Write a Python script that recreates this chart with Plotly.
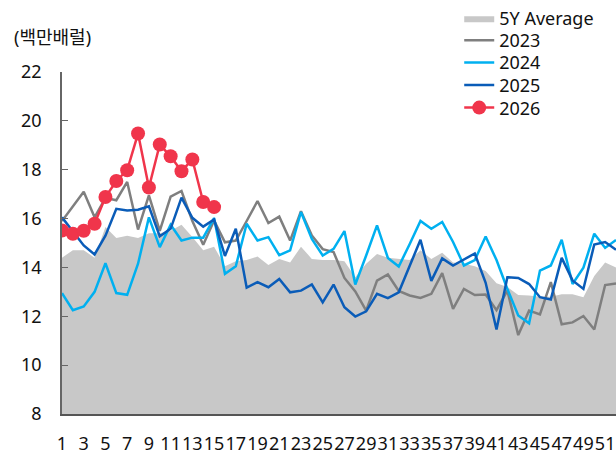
import plotly.graph_objects as go

weeks = list(range(1, 53))
weeks_2026 = list(range(1, 16))

avg_5y = [14.4, 14.7, 14.7, 14.4, 15.65, 15.2, 15.3, 15.2, 15.4, 15.4,
          15.5, 15.75, 15.25, 14.7, 14.85, 14.05, 14.25, 14.3, 14.45, 14.1,
          14.35, 14.2, 14.85, 14.35, 14.3, 14.3, 14.25, 13.6, 14.15, 14.55,
          14.4, 14.35, 14.3, 14.7, 14.35, 14.6, 14.2, 14.15, 14.05, 13.85,
          13.35, 13.2, 12.87, 12.85, 12.8, 12.8, 12.9, 12.9, 12.78, 13.65,
          14.2, 14.0]

y2023 = [15.9, 16.5, 17.1, 16.05, 16.85, 16.75, 17.5, 15.55, 16.95, 15.5,
         16.9, 17.13, 15.9, 14.93, 15.92, 15.03, 15.1, 15.9, 16.72, 15.82,
         16.08, 15.1, 16.3, 15.31, 14.75, 14.63, 13.57, 13.02, 12.23, 13.46,
         13.71, 13.04, 12.85, 12.75, 12.92, 13.77, 12.3, 13.12, 12.87, 12.89,
         12.25, 13.05, 11.23, 12.23, 12.08, 13.4, 11.67, 11.75, 12.01, 11.46,
         13.28, 13.34]

y2024 = [12.95, 12.25, 12.4, 13.0, 14.17, 12.95, 12.88, 14.15, 16.05, 14.83,
         15.75, 15.1, 15.22, 15.22, 16.02, 13.74, 14.05, 15.79, 15.1, 15.24,
         14.5, 14.7, 16.27, 15.17, 14.49, 14.76, 15.49, 13.3, 14.49, 15.72,
         14.39, 14.04, 14.95, 15.9, 15.58, 15.86, 15.04, 14.08, 14.3, 15.27,
         14.3, 13.12, 12.03, 11.71, 13.87, 14.08, 15.13, 13.32, 13.99, 15.38,
         14.8, 15.12]

y2025 = [16.05, 15.45, 14.9, 14.53, 15.3, 16.4, 16.33, 16.36, 16.5, 15.27,
         15.58, 16.86, 16.03, 15.67, 15.96, 14.47, 15.58, 13.17, 13.4, 13.19,
         13.53, 12.98, 13.05, 13.3, 12.57, 13.3, 12.37, 11.99, 12.2, 12.92,
         12.74, 12.98, 14.05, 15.13, 13.45, 14.37, 14.08, 14.31, 14.57, 13.37,
         11.46, 13.6, 13.57, 13.32, 12.78, 12.69, 14.39, 13.47, 13.12, 14.94,
         15.04, 14.72]

y2026 = [15.51, 15.38, 15.5, 15.79, 16.88, 17.54, 17.98, 19.48, 17.27, 19.03,
         18.55, 17.94, 18.42, 16.68, 16.47]

x_tick_vals = list(range(1, 52, 2))
x_tick_text = [str(v) for v in x_tick_vals]
y_tick_vals = [8, 10, 12, 14, 16, 18, 20, 22]
unit_label = "(백만배럴)"

FONT = "Noto Sans, Noto Sans CJK KR, sans-serif"
LEG_X = 0.717
LEG_Y = [1.158, 1.092, 1.027, 0.961, 0.895]

fig = go.Figure()
fig.add_trace(go.Scatter(x=weeks, y=avg_5y, name="5Y Average", mode="lines",
                         fill="tozeroy", fillcolor="#c8c8c8",
                         line=dict(width=0, color="#c8c8c8"), legend="legend"))
fig.add_trace(go.Scatter(x=weeks, y=y2023, name="2023", mode="lines",
                         line=dict(color="#7f7f7f", width=2.5), legend="legend2"))
fig.add_trace(go.Scatter(x=weeks, y=y2024, name="2024", mode="lines",
                         line=dict(color="#00b0f0", width=2.5), legend="legend3"))
fig.add_trace(go.Scatter(x=weeks, y=y2025, name="2025", mode="lines",
                         line=dict(color="#0a5cb8", width=2.5), legend="legend4"))
fig.add_trace(go.Scatter(x=weeks_2026, y=y2026, name="2026", mode="lines+markers",
                         line=dict(color="#f0354b", width=2.5),
                         marker=dict(color="#f0354b", size=14, symbol="circle"),
                         legend="legend5"))

leg_common = dict(x=LEG_X, xanchor="left", yanchor="middle",
                  bgcolor="rgba(0,0,0,0)", font=dict(size=18))

fig.update_layout(
    width=616, height=454,
    margin=dict(l=62, r=0, t=72, b=40),
    paper_bgcolor="white", plot_bgcolor="white",
    font=dict(family=FONT, size=18, color="#111111"),
    showlegend=True,
    legend=dict(y=LEG_Y[0], **leg_common),
    legend2=dict(y=LEG_Y[1], **leg_common),
    legend3=dict(y=LEG_Y[2], **leg_common),
    legend4=dict(y=LEG_Y[3], **leg_common),
    legend5=dict(y=LEG_Y[4], **leg_common),
    xaxis=dict(range=[1, 52], tickmode="array", tickvals=x_tick_vals,
               ticktext=x_tick_text, ticks="", showgrid=False, zeroline=False,
               showline=True, linecolor="#555555", linewidth=1.5,
               automargin=False, ticklabelstandoff=13, tickangle=0,
               tickfont=dict(size=18)),
    xaxis2=dict(range=[1, 52], overlaying="x", anchor="y", side="bottom",
                tickmode="linear", tick0=1, dtick=4, ticks="inside",
                ticklen=6, tickcolor="#555555", tickwidth=1.2,
                showticklabels=False, showgrid=False, zeroline=False,
                showline=False, automargin=False),
    yaxis=dict(range=[8, 22], tickvals=y_tick_vals, ticks="inside",
               ticklen=6, tickcolor="#666666", tickwidth=1.2,
               showgrid=False, zeroline=False, showline=True,
               linecolor="#666666", linewidth=1.5, automargin=False,
               ticklabelstandoff=15, tickfont=dict(size=18)),
    annotations=[dict(text=unit_label, xref="paper", yref="paper",
                      x=-0.09, y=1.103, xanchor="left", yanchor="middle",
                      showarrow=False, font=dict(size=18))],
)

fig.write_html("out.html", config={"displayModeBar": False},
               post_script="document.body.style.margin='0';")
